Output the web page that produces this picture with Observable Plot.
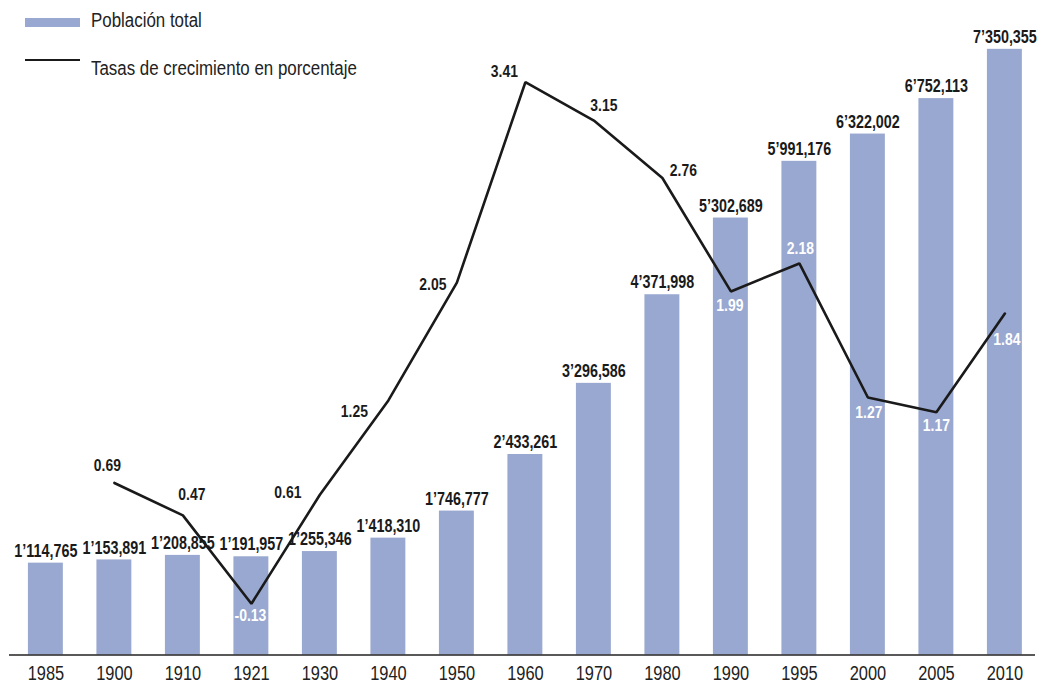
<!DOCTYPE html>
<html>
<head>
<meta charset="utf-8">
<script src="https://cdn.jsdelivr.net/npm/d3@7"></script>
<script src="https://cdn.jsdelivr.net/npm/@observablehq/plot@0.6"></script>
<style>
  body { margin: 0; background: #fff; }
  #wrap { position: relative; width: 1041px; height: 683px; font-family: "Liberation Sans", Arial, sans-serif; }
  .leg-text { position: absolute; font-size: 20px; line-height: 20px; color: #222; white-space: nowrap; transform: scaleX(0.845); transform-origin: 0 50%; }
  .leg-sw { position: absolute; }
</style>
</head>
<body>
<div id="wrap">
  <div id="chart"></div>
  <div class="leg-sw" style="left:25px; top:18px; width:55px; height:9px; background:#99a8d0;"></div>
  <div class="leg-text" style="left:91px; top:10px;">Población total</div>
  <div class="leg-sw" style="left:25px; top:59px; width:55px; height:2.2px; background:#1a1a1a;"></div>
  <div class="leg-text" style="left:91px; top:58px;">Tasas de crecimiento en porcentaje</div>
</div>
<script>
// ---- Data ----
const years = ["1985", "1900", "1910", "1921", "1930", "1940", "1950", "1960", "1970", "1980", "1990", "1995", "2000", "2005", "2010"];
const population = [1114765, 1153891, 1208855, 1191957, 1255346, 1418310, 1746777, 2433261, 3296586, 4371998, 5302689, 5991176, 6322002, 6752113, 7350355];
const rateYears = ["1900", "1910", "1921", "1930", "1940", "1950", "1960", "1970", "1980", "1990", "1995", "2000", "2005", "2010"];
const rates = [0.69, 0.47, -0.13, 0.61, 1.25, 2.05, 3.41, 3.15, 2.76, 1.99, 2.18, 1.27, 1.17, 1.84];

// ---- Layout (label placement, not data) ----
const rateLabelNudge = {
  "1900": [-7, -17], "1910": [9, -21], "1921": [-1, 12], "1930": [-32, -2],
  "1940": [-34, 11], "1950": [-24, 2], "1960": [-21, -11], "1970": [10, -15],
  "1980": [21, -7], "1990": [-1, 14], "1995": [1, -15], "2000": [1, 15],
  "2005": [0, 13], "2010": [2, 26]
};
const whiteLabelYears = new Set(["1921", "1990", "1995", "2000", "2005", "2010"]);

const popData = years.map((year, i) => ({ year, pop: population[i] }));
const rateData = rateYears.map((year, i) => ({ year, rate: rates[i] }));

// secondary (rate) axis mapped onto the population axis
const rateToPop = d3.scaleLinear().domain([0, 1]).range([854000, 854000 + 1788000]);

const fmtPop = v => {
  const s = d3.format(",")(v);
  return v >= 1e6 ? s.replace(",", "\u2019") : s;
};
const fmtRate = r => r.toFixed(2);

const FONT = '"Liberation Sans", Arial, sans-serif';
const BAR = "#99a8d0";
const INK = "#1a1a1a";

const rateLabelMarks = rateData.map(d => {
  const [dx, dy] = rateLabelNudge[d.year];
  return Plot.text([d], {
    x: "year",
    y: r => rateToPop(r.rate),
    text: r => fmtRate(r.rate),
    dx, dy,
    fontSize: 17,
    fontWeight: "bold",
    fill: whiteLabelYears.has(d.year) ? "#ffffff" : INK
  });
});

const chart = Plot.plot({
  width: 1041,
  height: 683,
  marginTop: 20,
  marginBottom: 28.5,
  marginLeft: 9,
  marginRight: 6,
  style: { fontFamily: FONT, background: "transparent", overflow: "visible" },
  x: { type: "band", domain: years, paddingInner: 0.49, paddingOuter: 0.234, align: 0.59, round: false, label: null },
  y: { domain: [0, 7700000], axis: null },
  marks: [
    Plot.barY(popData, { x: "year", y: "pop", fill: BAR }),
    Plot.ruleY([0], { stroke: "#222", strokeWidth: 1.5 }),
    Plot.line(rateData, { x: "year", y: d => rateToPop(d.rate), stroke: INK, strokeWidth: 2.6, strokeLinejoin: "miter" }),
    Plot.text(popData, {
      x: "year", y: "pop", text: d => fmtPop(d.pop),
      dy: -12, fontSize: 17.5, fontWeight: "bold", fill: INK
    }),
    ...rateLabelMarks,
    Plot.axisX({ tickSize: 0, tickPadding: 11, fontSize: 20, color: "#222", label: null })
  ]
});
document.getElementById("chart").appendChild(chart);

// condensed type: squeeze each label horizontally (like a narrow face)
chart.querySelectorAll("text").forEach(t => {
  const w = t.getComputedTextLength();
  if (w > 0) {
    t.setAttribute("textLength", (w * 0.82).toFixed(1));
    t.setAttribute("lengthAdjust", "spacingAndGlyphs");
  }
});
</script>
</body>
</html>
